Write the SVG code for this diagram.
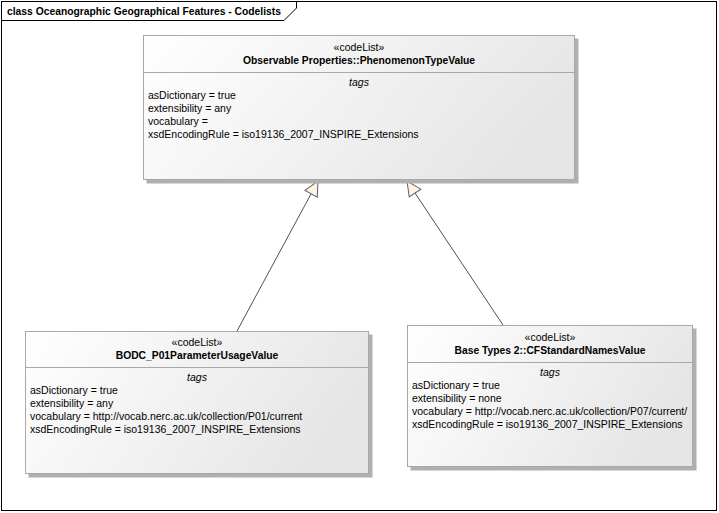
<svg xmlns="http://www.w3.org/2000/svg" width="719" height="513" viewBox="0 0 719 513">
<style>
text{font-family:"Liberation Sans",Arial,sans-serif;font-size:10.5px;fill:#000}
.st{text-anchor:middle}
.nm{text-anchor:middle;font-weight:bold;font-size:10.3px}
.tg{text-anchor:middle;font-style:italic}
.box{fill:url(#g);stroke:#a8a8a8;stroke-width:1}
.sh{fill:#b0b0b0}
.sep{stroke:#a8a8a8;stroke-width:1}
.conn{stroke:#505050;stroke-width:1;fill:none;marker-end:url(#tri)}
</style>
<defs>
<linearGradient id="g" x1="0" y1="0" x2="1" y2="0.3">
<stop offset="0" stop-color="#ffffff"/>
<stop offset="1" stop-color="#e6e6e6"/>
</linearGradient>
<marker id="tri" markerWidth="18" markerHeight="18" refX="15.5" refY="8" orient="auto" markerUnits="userSpaceOnUse">
<path d="M1,1 L15.5,8 L1,15 Z" fill="#fdf2e4" stroke="#606060" stroke-width="1"/>
</marker>
</defs>
<rect x="0" y="0" width="719" height="513" fill="#ffffff"/>
<g id="frame">
<rect x="1.5" y="1.5" width="715" height="509" fill="none" stroke="#000" stroke-width="1"/>
<path d="M1.5,20.5 H284 L296.5,8 V1.5" fill="none" stroke="#000" stroke-width="1"/>
<text x="7" y="15" textLength="274" lengthAdjust="spacingAndGlyphs" style="font-weight:bold;font-size:11px">class Oceanographic Geographical Features - Codelists</text>
</g>
<g id="connectors">
<line class="conn" x1="237" y1="331" x2="318" y2="181"/>
<line class="conn" x1="503" y1="325" x2="407" y2="181"/>
</g>
<g id="phenomenon">
<rect class="sh" x="146.5" y="38.5" width="432" height="145"/>
<rect class="box" x="143.5" y="35.5" width="431" height="144"/>
<line class="sep" x1="143.5" y1="72.5" x2="574.5" y2="72.5"/>
<text class="st" x="359" y="51">«codeList»</text>
<text class="nm" x="359" y="64">Observable Properties::PhenomenonTypeValue</text>
<text class="tg" x="359" y="86">tags</text>
<text x="148" y="99">asDictionary = true</text>
<text x="148" y="112">extensibility = any</text>
<text x="148" y="125">vocabulary =</text>
<text x="148" y="138">xsdEncodingRule = iso19136_2007_INSPIRE_Extensions</text>
</g>
<g id="bodc">
<rect class="sh" x="28.5" y="334.5" width="344" height="143"/>
<rect class="box" x="25.5" y="331.5" width="343" height="142"/>
<line class="sep" x1="25.5" y1="367.5" x2="368.5" y2="367.5"/>
<text class="st" x="197" y="346">«codeList»</text>
<text class="nm" x="197" y="359">BODC_P01ParameterUsageValue</text>
<text class="tg" x="197" y="381">tags</text>
<text x="30" y="394">asDictionary = true</text>
<text x="30" y="407">extensibility = any</text>
<text x="30" y="420">vocabulary = http://vocab.nerc.ac.uk/collection/P01/current</text>
<text x="30" y="433">xsdEncodingRule = iso19136_2007_INSPIRE_Extensions</text>
</g>
<g id="cfstandard">
<rect class="sh" x="410.5" y="328.5" width="286" height="142"/>
<rect class="box" x="407.5" y="325.5" width="285" height="141"/>
<line class="sep" x1="407.5" y1="362.5" x2="692.5" y2="362.5"/>
<text class="st" x="550" y="341">«codeList»</text>
<text class="nm" x="550" y="354">Base Types 2::CFStandardNamesValue</text>
<text class="tg" x="550" y="376">tags</text>
<text x="412" y="389">asDictionary = true</text>
<text x="412" y="402">extensibility = none</text>
<text x="412" y="415">vocabulary = http://vocab.nerc.ac.uk/collection/P07/current/</text>
<text x="412" y="428">xsdEncodingRule = iso19136_2007_INSPIRE_Extensions</text>
</g>
</svg>
